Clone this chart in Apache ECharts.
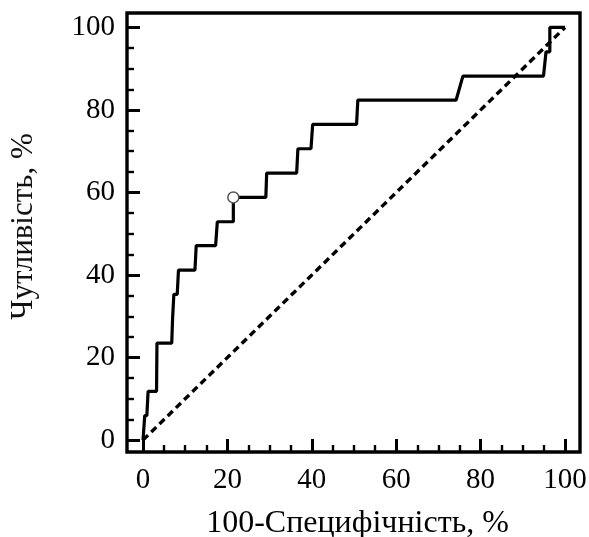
<!DOCTYPE html>
<html>
<head>
<meta charset="utf-8">
<script src="https://cdn.jsdelivr.net/npm/echarts@6/dist/echarts.min.js"></script>
<style>html,body{margin:0;padding:0;background:#fff}#c{width:589px;height:537px}</style>
</head>
<body>
<div id="c"></div>
<script>
// ROC curve points (100-Specificity %, Sensitivity %)
const rocX = [0, 0.4, 0.9, 1.2, 3.2, 3.3, 6.8, 7.0, 7.3, 8.1, 8.4, 12.3, 12.6, 17.2, 17.6, 21.4, 21.4, 29.1, 29.3, 36.4, 36.7, 39.8, 40.2, 50.6, 50.9, 74.2, 75.8, 94.9, 95.5, 96.4, 96.4, 100];
const rocY = [0, 5.9, 5.9, 11.8, 11.8, 23.5, 23.5, 29.4, 35.3, 35.3, 41.2, 41.2, 47.1, 47.1, 52.9, 52.9, 58.8, 58.8, 64.7, 64.7, 70.6, 70.6, 76.5, 76.5, 82.4, 82.4, 88.2, 88.2, 94.1, 94.1, 100, 100];
const diagX = [0, 100];
const diagY = [0, 100];
const cutX = [21.4];
const cutY = [58.8];
const majorTicks = [0, 20, 40, 60, 80, 100];
const minorTicks = [5, 10, 15, 25, 30, 35, 45, 50, 55, 65, 70, 75, 85, 90, 95];
const xTitle = '100-Специфічність, %';
const yTitle = 'Чутливість, %';

const zip = (a, b) => a.map((v, i) => [v, b[i]]);
const FONT = 'Liberation Serif';
const axisCommon = {
  type: 'value',
  splitLine: { show: false },
  axisLine: { show: false, onZero: false },
};
const chart = echarts.init(document.getElementById('c'), null, { renderer: 'canvas' });
chart.setOption({
  animation: false,
  backgroundColor: '#fff',
  grid: { left: 127, top: 13, width: 453, height: 439, containLabel: false, outerBoundsMode: 'none', show: true, borderColor: '#000', borderWidth: 3.4, backgroundColor: 'transparent' },
  xAxis: [
    Object.assign({}, axisCommon, {
      min: -3.8, max: 103.55, position: 'bottom',
      name: xTitle, nameLocation: 'middle', nameGap: 56,
      nameTextStyle: { fontFamily: FONT, fontSize: 32, color: '#000', padding: [0, 0, 0, 8] },
      axisTick: { show: true, inside: true, length: 13, customValues: majorTicks, lineStyle: { color: '#000', width: 3 } },
      axisLabel: { show: true, customValues: majorTicks, margin: 14, fontFamily: FONT, fontSize: 29, color: '#000' }
    }),
    Object.assign({}, axisCommon, {
      min: -3.8, max: 103.55, position: 'bottom',
      axisTick: { show: true, inside: true, length: 7, customValues: minorTicks, lineStyle: { color: '#000', width: 2.4 } },
      axisLabel: { show: false }
    })
  ],
  yAxis: [
    Object.assign({}, axisCommon, {
      min: -2.9, max: 103.5, position: 'left',
      name: yTitle, nameLocation: 'middle', nameGap: 88,
      nameTextStyle: { fontFamily: FONT, fontSize: 31, color: '#111', padding: [0, 0, 0, 12] },
      axisTick: { show: true, inside: true, length: 13, customValues: majorTicks, lineStyle: { color: '#000', width: 3 } },
      axisLabel: { show: true, customValues: majorTicks, margin: 12, fontFamily: FONT, fontSize: 29, color: '#000' }
    }),
    Object.assign({}, axisCommon, {
      min: -2.9, max: 103.5, position: 'left',
      axisTick: { show: true, inside: true, length: 7, customValues: minorTicks, lineStyle: { color: '#000', width: 2.4 } },
      axisLabel: { show: false }
    })
  ],
  series: [
    {
      type: 'line', data: zip(diagX, diagY), xAxisIndex: 0, yAxisIndex: 0,
      symbol: 'none', lineStyle: { color: '#000', width: 3.4, type: [7, 4.5] }, z: 2
    },
    {
      type: 'line', data: zip(rocX, rocY), xAxisIndex: 0, yAxisIndex: 0,
      symbol: 'none', lineStyle: { color: '#000', width: 3.2 }, z: 3
    },
    {
      type: 'scatter', data: zip(cutX, cutY), xAxisIndex: 0, yAxisIndex: 0,
      symbol: 'circle', symbolSize: 11,
      itemStyle: { color: '#fff', borderColor: '#555', borderWidth: 1.5, opacity: 1 }, z: 4
    }
  ]
});
</script>
</body>
</html>
